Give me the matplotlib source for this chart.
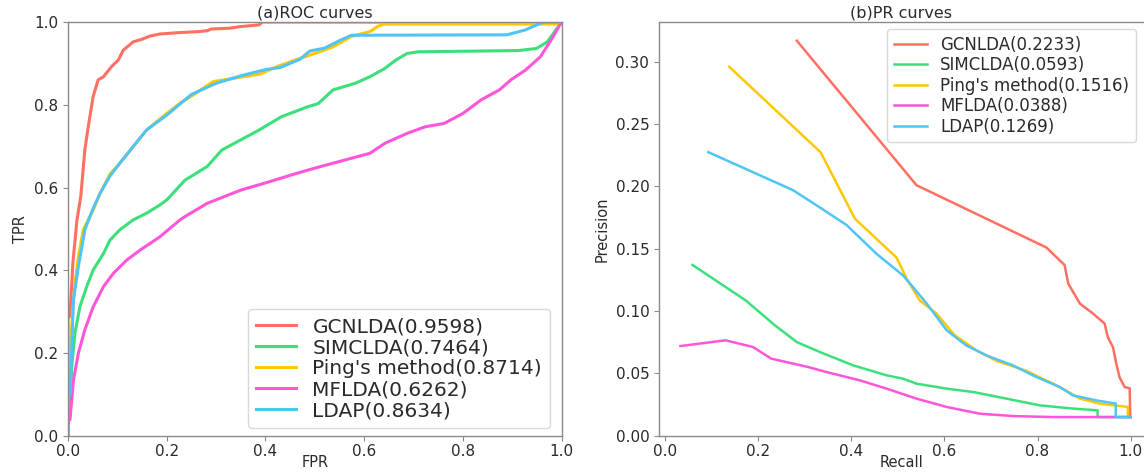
import matplotlib
matplotlib.use("Agg")
import matplotlib.pyplot as plt

# ROC curves (FPR, TPR) per method
roc_gcn_fpr = [0, 0, 0.004, 0.010, 0.018, 0.026, 0.034, 0.041, 0.051, 0.061, 0.072, 0.088, 0.102,
               0.112, 0.132, 0.149, 0.166, 0.186, 0.220, 0.267, 0.282, 0.290, 0.327, 0.350, 0.387,
               0.394, 1.0]
roc_gcn_tpr = [0, 0.285, 0.290, 0.420, 0.520, 0.580, 0.690, 0.747, 0.820, 0.860, 0.868, 0.892, 0.908,
               0.932, 0.952, 0.958, 0.966, 0.971, 0.974, 0.977, 0.979, 0.983, 0.985, 0.989, 0.993,
               1.0, 1.0]

roc_sim_fpr = [0, 0, 0.004, 0.0075, 0.014, 0.024, 0.038, 0.051, 0.072, 0.085, 0.105, 0.132, 0.159,
               0.186, 0.200, 0.237, 0.282, 0.312, 0.387, 0.432, 0.485, 0.507, 0.537, 0.582, 0.612,
               0.642, 0.664, 0.687, 0.709, 0.912, 0.949, 0.971, 1.0]
roc_sim_tpr = [0, 0.063, 0.070, 0.167, 0.248, 0.312, 0.361, 0.401, 0.441, 0.473, 0.498, 0.522, 0.538,
               0.558, 0.570, 0.618, 0.651, 0.691, 0.739, 0.771, 0.795, 0.803, 0.836, 0.852, 0.868,
               0.888, 0.908, 0.924, 0.928, 0.931, 0.936, 0.952, 1.0]

roc_ping_fpr = [0, 0, 0.0075, 0.014, 0.021, 0.031, 0.041, 0.051, 0.065, 0.085, 0.105, 0.132, 0.159,
                0.200, 0.227, 0.254, 0.294, 0.335, 0.389, 0.423, 0.470, 0.500, 0.537, 0.574, 0.612,
                0.627, 0.640, 0.990, 1.0]
roc_ping_tpr = [0, 0.135, 0.264, 0.369, 0.433, 0.498, 0.522, 0.546, 0.586, 0.632, 0.659, 0.699, 0.739,
                0.779, 0.804, 0.824, 0.856, 0.864, 0.874, 0.892, 0.912, 0.924, 0.940, 0.965, 0.977,
                0.989, 0.995, 0.995, 1.0]

roc_mf_fpr = [0, 0, 0.004, 0.011, 0.021, 0.034, 0.051, 0.072, 0.092, 0.119, 0.146, 0.186, 0.227,
              0.237, 0.282, 0.350, 0.402, 0.462, 0.500, 0.537, 0.612, 0.642, 0.687, 0.724, 0.762,
              0.800, 0.837, 0.874, 0.897, 0.927, 0.957, 0.979, 1.0]
roc_mf_tpr = [0, 0.036, 0.039, 0.135, 0.200, 0.256, 0.312, 0.361, 0.393, 0.425, 0.449, 0.481, 0.522,
              0.530, 0.562, 0.594, 0.612, 0.634, 0.647, 0.659, 0.683, 0.707, 0.731, 0.747, 0.755,
              0.779, 0.812, 0.836, 0.860, 0.884, 0.916, 0.957, 1.0]

roc_ldap_fpr = [0, 0, 0.004, 0.011, 0.021, 0.034, 0.051, 0.065, 0.085, 0.105, 0.132, 0.159, 0.200,
                0.250, 0.300, 0.350, 0.400, 0.430, 0.470, 0.490, 0.520, 0.550, 0.574, 0.889, 0.927,
                0.957, 0.970, 1.0]
roc_ldap_tpr = [0, 0.095, 0.100, 0.329, 0.409, 0.498, 0.550, 0.586, 0.628, 0.659, 0.699, 0.739, 0.775,
                0.825, 0.852, 0.870, 0.885, 0.890, 0.910, 0.930, 0.937, 0.955, 0.968, 0.969, 0.981,
                0.997, 1.0, 1.0]

# PR curves (recall, precision) per method
pr_gcn_rec = [0.283, 0.540, 0.819, 0.858, 0.866, 0.891, 0.919, 0.944, 0.951, 0.962, 0.969, 0.976,
              0.987, 0.998, 0.999, 1.0]
pr_gcn_prec = [0.317, 0.201, 0.151, 0.137, 0.122, 0.106, 0.098, 0.090, 0.079, 0.071, 0.058, 0.047,
               0.039, 0.038, 0.0149, 0.0149]

pr_sim_rec = [0.059, 0.173, 0.236, 0.283, 0.333, 0.404, 0.476, 0.511, 0.540, 0.605, 0.662, 0.733,
              0.805, 0.876, 0.929, 0.929, 1.0]
pr_sim_prec = [0.137, 0.1086, 0.0885, 0.0751, 0.067, 0.0564, 0.0484, 0.0457, 0.0417, 0.0377, 0.035,
               0.0297, 0.0243, 0.0217, 0.0203, 0.0149, 0.0149]

pr_ping_rec = [0.138, 0.334, 0.408, 0.497, 0.519, 0.547, 0.583, 0.622, 0.669, 0.712, 0.776, 0.833,
               0.862, 0.891, 0.933, 0.994, 0.994, 1.0]
pr_ping_prec = [0.296, 0.2275, 0.174, 0.143, 0.126, 0.1085, 0.098, 0.0805, 0.0684, 0.060, 0.052,
                0.0417, 0.036, 0.0297, 0.0257, 0.023, 0.0149, 0.0149]

pr_mf_rec = [0.033, 0.130, 0.189, 0.228, 0.307, 0.346, 0.418, 0.476, 0.540, 0.605, 0.676, 0.747,
             0.833, 1.0]
pr_mf_prec = [0.0719, 0.0765, 0.0711, 0.0618, 0.0551, 0.0511, 0.0444, 0.0377, 0.0297, 0.023, 0.0176,
              0.0157, 0.0149, 0.0149]

pr_ldap_rec = [0.093, 0.275, 0.333, 0.390, 0.454, 0.511, 0.533, 0.562, 0.605, 0.647, 0.690, 0.747,
               0.798, 0.848, 0.876, 0.926, 0.968, 0.968, 1.0]
pr_ldap_prec = [0.2275, 0.197, 0.183, 0.169, 0.146, 0.1286, 0.119, 0.106, 0.0845, 0.0724, 0.0644,
                0.0564, 0.047, 0.039, 0.0323, 0.0283, 0.0257, 0.0149, 0.0149]

roc_labels = ["GCNLDA(0.9598)", "SIMCLDA(0.7464)", "Ping's method(0.8714)", "MFLDA(0.6262)", "LDAP(0.8634)"]
pr_labels = ["GCNLDA(0.2233)", "SIMCLDA(0.0593)", "Ping's method(0.1516)", "MFLDA(0.0388)", "LDAP(0.1269)"]
colors = ["#ff6f62", "#3be07a", "#ffc800", "#ff55d8", "#4fc4f5"]

W, H = 1144, 472
fig = plt.figure(figsize=(W / 100, H / 100), dpi=100)

text_color = "#2a2a2a"
spine_color = "#8a8a8a"


def style_axes(ax):
    for s in ax.spines.values():
        s.set_color(spine_color)
        s.set_linewidth(1.0)
    ax.tick_params(colors=spine_color, labelcolor=text_color, labelsize=11, length=3.5)
    ax.tick_params(axis="x", pad=2)


# (a) ROC curves
ax1 = fig.add_axes([68 / W, 1 - 436 / H, 493.6 / W, 414 / H])
roc = [(roc_gcn_fpr, roc_gcn_tpr), (roc_sim_fpr, roc_sim_tpr), (roc_ping_fpr, roc_ping_tpr),
       (roc_mf_fpr, roc_mf_tpr), (roc_ldap_fpr, roc_ldap_tpr)]
for (x, y), lab, c in zip(roc, roc_labels, colors):
    ax1.plot(x, y, color=c, lw=2.2, label=lab)
ax1.set_xlim(0, 1)
ax1.set_ylim(0, 1)
ax1.set_xticks([0, 0.2, 0.4, 0.6, 0.8, 1.0])
ax1.set_yticks([0, 0.2, 0.4, 0.6, 0.8, 1.0])
style_axes(ax1)
ax1.set_title("(a)ROC curves", fontsize=11.5, color=text_color, pad=3)
ax1.set_xlabel("FPR", fontsize=10.5, color=text_color)
ax1.xaxis.set_label_coords(0.5, -0.047)
ax1.set_ylabel("TPR", fontsize=10.5, color=text_color, labelpad=4)
ax1.legend(loc="upper left", bbox_to_anchor=(248 / W, 1 - 309 / H), bbox_transform=fig.transFigure,
           borderaxespad=0, fontsize=14.5, labelspacing=0.1, handlelength=2.0, handletextpad=0.8,
           edgecolor="#d0d0d0", labelcolor=text_color)

# (b) PR curves
ax2 = fig.add_axes([659 / W, 1 - 436 / H, 494 / W, 414 / H])
pr = [(pr_gcn_rec, pr_gcn_prec), (pr_sim_rec, pr_sim_prec), (pr_ping_rec, pr_ping_prec),
      (pr_mf_rec, pr_mf_prec), (pr_ldap_rec, pr_ldap_prec)]
for (x, y), lab, c in zip(pr, pr_labels, colors):
    ax2.plot(x, y, color=c, lw=1.8, label=lab)
ax2.set_xlim(-0.013, 1.048)
ax2.set_ylim(-0.0003, 0.332)
ax2.set_xticks([0, 0.2, 0.4, 0.6, 0.8, 1.0])
ax2.set_yticks([0, 0.05, 0.10, 0.15, 0.20, 0.25, 0.30])
ax2.yaxis.set_major_formatter(matplotlib.ticker.FormatStrFormatter("%.2f"))
style_axes(ax2)
# title and xlabel centred on the visible part of the panel
ax2.set_title("(b)PR curves", fontsize=11.5, color=text_color, pad=3, x=0.49)
ax2.set_xlabel("Recall", fontsize=10.5, color=text_color)
ax2.xaxis.set_label_coords(0.49, -0.047)
ax2.set_ylabel("Precision", fontsize=10.5, color=text_color, labelpad=4)
ax2.legend(loc="upper left", bbox_to_anchor=(887 / W, 1 - 29 / H), bbox_transform=fig.transFigure,
           borderaxespad=0, fontsize=12, labelspacing=0.15, handlelength=2.0, handletextpad=0.8,
           edgecolor="#d0d0d0", labelcolor=text_color)

fig.savefig("out.png", dpi=100)
